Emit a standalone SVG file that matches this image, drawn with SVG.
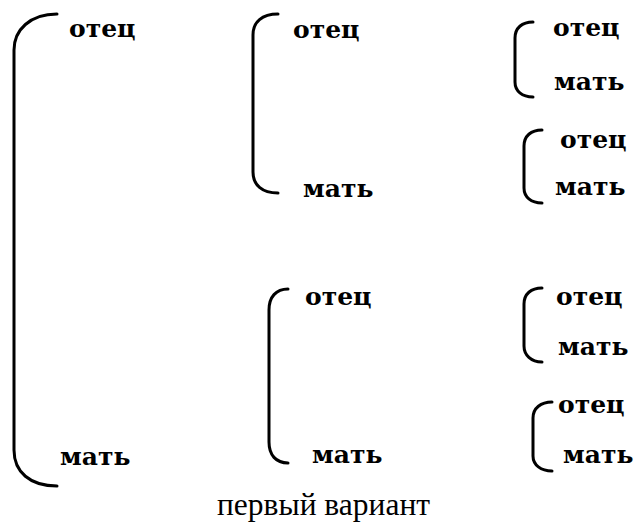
<svg xmlns="http://www.w3.org/2000/svg" width="635" height="522" viewBox="0 0 635 522">
<style>
.t{font-family:"DejaVu Serif","Liberation Serif",serif;font-weight:bold;font-size:25px;fill:#000}
.b{fill:none;stroke:#000;stroke-width:3;stroke-linecap:round}
.cap{font-family:"Liberation Serif","Times New Roman",serif;font-size:31.5px;fill:#000}
</style>
<rect width="635" height="522" fill="#fff"/>
<g id="connectors">
<path class="b" d="M57 14 C30 14 14 30 14 50 L14 450 C14 472 30 486 57 486"/>
<path class="b" d="M278 14 C262 14 253 22 253 35 L253 172 C253 185 262 193 278 193"/>
<path class="b" d="M288 289 C276 289 269 297 269 310 L269 442 C269 455 276 463 288 463"/>
<path class="b" d="M533 22 C522 22 515 28 515 38 L515 82 C515 91 522 97 533 97"/>
<path class="b" d="M542 130 C531 130 524 136 524 146 L524 188 C524 197 531 203 542 203"/>
<path class="b" d="M542 288 C531 288 524 294 524 304 L524 346 C524 355 531 362 542 362"/>
<path class="b" d="M552 402 C541 402 533 408 533 418 L533 456 C533 465 541 471 552 471"/>
</g>
<g id="n1-father"><text class="t" x="69" y="37">отец</text></g>
<g id="n1-mother"><text class="t" x="60" y="465">мать</text></g>
<g id="n2-father"><text class="t" x="293" y="38">отец</text></g>
<g id="n2-mother"><text class="t" x="303" y="197">мать</text></g>
<g id="n3-father"><text class="t" x="305" y="305">отец</text></g>
<g id="n3-mother"><text class="t" x="312" y="463">мать</text></g>
<g id="n4-father"><text class="t" x="553" y="36">отец</text></g>
<g id="n4-mother"><text class="t" x="554" y="90">мать</text></g>
<g id="n5-father"><text class="t" x="560" y="148">отец</text></g>
<g id="n5-mother"><text class="t" x="555" y="195">мать</text></g>
<g id="n6-father"><text class="t" x="556" y="305">отец</text></g>
<g id="n6-mother"><text class="t" x="558" y="355">мать</text></g>
<g id="n7-father"><text class="t" x="558" y="413">отец</text></g>
<g id="n7-mother"><text class="t" x="563" y="463">мать</text></g>
<g id="caption"><text class="cap" x="217" y="515">первый вариант</text></g>
</svg>
